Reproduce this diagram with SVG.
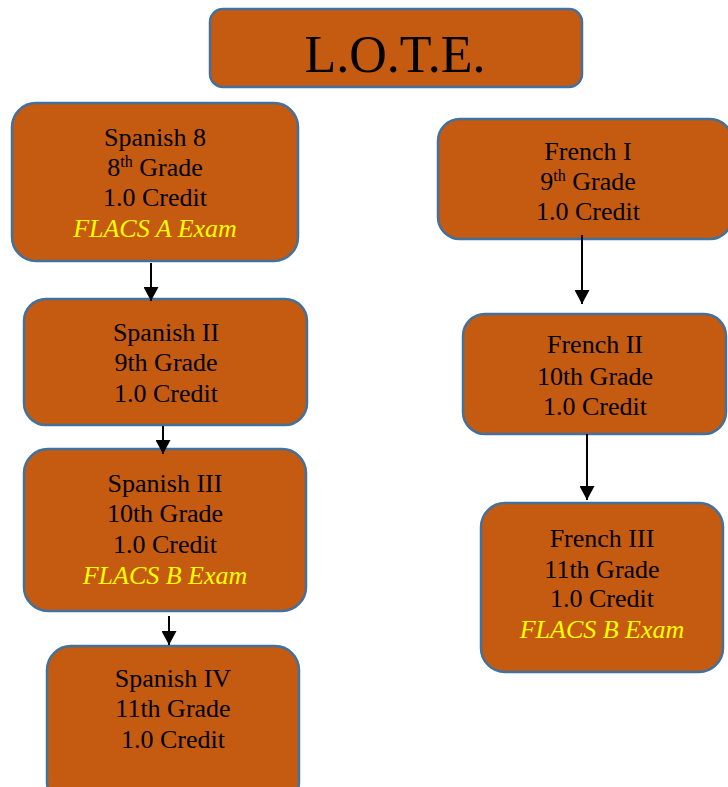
<svg xmlns="http://www.w3.org/2000/svg" width="728" height="787" viewBox="0 0 728 787">
<defs>
<style>
.box{fill:#C55A11;stroke:#41719C;stroke-width:2.5}
.t{font-family:"Liberation Serif","Times New Roman",serif;font-size:26px;fill:#000;text-anchor:middle}
.y{font-style:italic;fill:#FFFF00}
.sup{font-size:16px}
.c{stroke:#000;stroke-width:2;fill:none}
</style>
<marker id="ah" viewBox="0 0 10 10" refX="10" refY="5" markerWidth="14" markerHeight="15" markerUnits="userSpaceOnUse" orient="auto" preserveAspectRatio="none">
<path d="M0,0 L10,5 L0,10 z" fill="#000"/>
</marker>
</defs>
<rect width="728" height="787" fill="#fff"/>
<g id="title">
<rect class="box" x="210" y="9" width="372" height="78" rx="13"/>
<text class="t" x="395" y="72" style="font-size:52px">L.O.T.E.</text>
</g>
<g id="spanish8">
<rect class="box" x="12" y="103" width="286" height="158" rx="24"/>
<text class="t" x="155" y="146">Spanish 8</text>
<text class="t" x="155" y="176">8<tspan class="sup" dy="-9">th</tspan><tspan dy="9"> Grade</tspan></text>
<text class="t" x="155" y="206">1.0 Credit</text>
<text class="t y" x="155" y="237">FLACS A Exam</text>
</g>
<g id="spanish2">
<rect class="box" x="24" y="299" width="283" height="126" rx="22"/>
<text class="t" x="166" y="341">Spanish II</text>
<text class="t" x="166" y="371">9th Grade</text>
<text class="t" x="166" y="402">1.0 Credit</text>
</g>
<g id="spanish3">
<rect class="box" x="24" y="449" width="282" height="162" rx="24"/>
<text class="t" x="165" y="492">Spanish III</text>
<text class="t" x="165" y="522">10th Grade</text>
<text class="t" x="165" y="553">1.0 Credit</text>
<text class="t y" x="165" y="584">FLACS B Exam</text>
</g>
<g id="spanish4">
<rect class="box" x="47" y="646" width="252" height="160" rx="24"/>
<text class="t" x="173" y="687">Spanish IV</text>
<text class="t" x="173" y="717">11th Grade</text>
<text class="t" x="173" y="748">1.0 Credit</text>
</g>
<g id="french1">
<rect class="box" x="438" y="119" width="294" height="120" rx="22"/>
<text class="t" x="588" y="160">French I</text>
<text class="t" x="588" y="190">9<tspan class="sup" dy="-9">th</tspan><tspan dy="9"> Grade</tspan></text>
<text class="t" x="588" y="220">1.0 Credit</text>
</g>
<g id="french2">
<rect class="box" x="463" y="314" width="263" height="120" rx="22"/>
<text class="t" x="595" y="353">French II</text>
<text class="t" x="595" y="385">10th Grade</text>
<text class="t" x="595" y="415">1.0 Credit</text>
</g>
<g id="french3">
<rect class="box" x="481" y="503" width="242" height="169" rx="24"/>
<text class="t" x="602" y="547">French III</text>
<text class="t" x="602" y="578">11th Grade</text>
<text class="t" x="602" y="607">1.0 Credit</text>
<text class="t y" x="602" y="638">FLACS B Exam</text>
</g>
<g id="connectors">
<line class="c" x1="151" y1="263" x2="151" y2="301" marker-end="url(#ah)"/>
<line class="c" x1="163" y1="426" x2="163" y2="454" marker-end="url(#ah)"/>
<line class="c" x1="169" y1="616" x2="169" y2="645" marker-end="url(#ah)"/>
<line class="c" x1="582" y1="235" x2="582" y2="304" marker-end="url(#ah)"/>
<line class="c" x1="587" y1="434" x2="587" y2="500" marker-end="url(#ah)"/>
</g>
</svg>
